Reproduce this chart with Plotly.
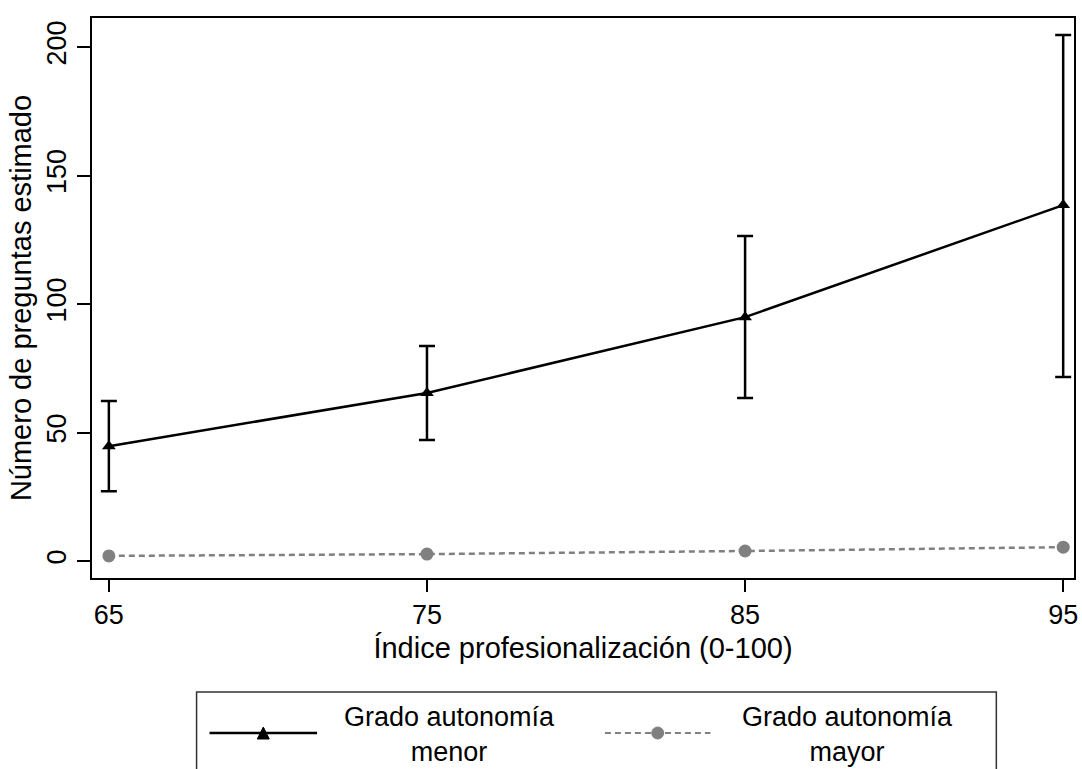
import plotly.graph_objects as go

x_vals = [65, 75, 85, 95]
menor = [44.7, 65.4, 94.9, 138.5]
menor_hi = [62.3, 83.7, 126.5, 204.7]
menor_lo = [27.2, 47.1, 63.4, 71.6]
mayor = [2.0, 2.7, 3.9, 5.4]
names = ["Grado autonomía<br>menor", "Grado autonomía<br>mayor"]

fig = go.Figure()
fig.add_trace(go.Scatter(
    x=x_vals, y=menor, mode="lines+markers", name=names[0], showlegend=False,
    line=dict(color="black", width=2.5),
    marker=dict(symbol="triangle-up", size=12, color="black"),
    error_y=dict(type="data", symmetric=False,
                 array=[h - m for h, m in zip(menor_hi, menor)],
                 arrayminus=[m - l for m, l in zip(menor, menor_lo)],
                 color="black", thickness=2.5, width=8),
))
fig.add_trace(go.Scatter(
    x=x_vals, y=mayor, mode="lines+markers", name=names[1], showlegend=False,
    line=dict(color="#808080", width=2.5, dash="6px,4px"),
    marker=dict(symbol="circle", size=13, color="#808080"),
))

FAM = "Liberation Sans, Arial, sans-serif"

# pixel -> paper helpers for the legend box (plot area: x 92..1078, y 18..578)
def px(x):
    return (x - 92) / 986.0

def py(y):
    return (578 - y) / 560.0

shapes = [
    dict(type="rect", xref="paper", yref="paper", x0=px(197), x1=px(1000),
         y0=py(692), y1=py(790), line=dict(color="#333333", width=1.5)),
    dict(type="line", xref="paper", yref="paper", x0=px(210), x1=px(318),
         y0=py(733), y1=py(733), line=dict(color="black", width=2.5)),
    dict(type="path", xref="paper", yref="paper",
         path=f"M {px(258)} {py(739)} L {px(270)} {py(739)} L {px(264)} {py(727)} Z",
         fillcolor="black", line=dict(color="black", width=1)),
    dict(type="line", xref="paper", yref="paper", x0=px(607), x1=px(713),
         y0=py(733), y1=py(733), line=dict(color="#808080", width=2, dash="6px,4px")),
    dict(type="circle", xref="paper", yref="paper", x0=px(654), x1=px(666),
         y0=py(739), y1=py(727), fillcolor="#808080", line=dict(color="#808080", width=1)),
]
annotations = [
    dict(xref="paper", yref="paper", x=px(451), y=py(734), text=names[0],
         showarrow=False, font=dict(family=FAM, size=27, color="black"),
         align="center", xanchor="center", yanchor="middle"),
    dict(xref="paper", yref="paper", x=px(851), y=py(734), text=names[1],
         showarrow=False, font=dict(family=FAM, size=27, color="black"),
         align="center", xanchor="center", yanchor="middle"),
]

fig.update_layout(
    width=1082, height=769,
    margin=dict(l=92, r=4, t=18, b=191),
    paper_bgcolor="white", plot_bgcolor="white",
    font=dict(family=FAM, size=24, color="black"), showlegend=False,
    shapes=shapes, annotations=annotations,
    xaxis=dict(range=[64.47, 95.34], tickvals=x_vals, ticks="outside", ticklen=12,
               tickwidth=1.5, tickcolor="black", showline=True, linecolor="black",
               linewidth=2, mirror=True, showgrid=False, zeroline=False,
               title=dict(text="Índice profesionalización (0-100)", standoff=8),
               tickfont=dict(family=FAM, size=27, color="black")),
    yaxis=dict(range=[-6.6, 211.3], tickvals=[0, 50, 100, 150, 200], ticks="outside",
               ticklen=13, tickwidth=1.5, tickcolor="black", showline=True,
               linecolor="black", linewidth=2, mirror=True, showgrid=False,
               zeroline=False, tickangle=-90,
               title=dict(text="Número de preguntas estimado", standoff=2),
               tickfont=dict(family=FAM, size=27, color="black")),
)
fig.write_html("out.html")
